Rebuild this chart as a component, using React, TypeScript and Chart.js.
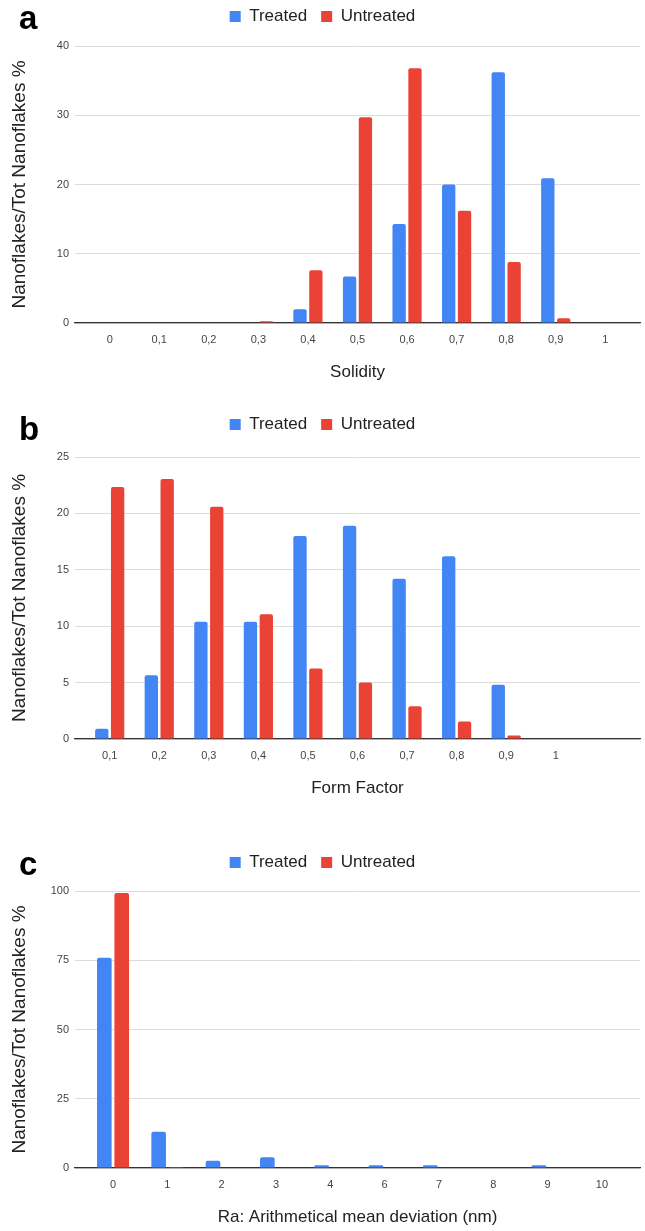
import React, { useEffect, useRef } from "react";
import { Chart, registerables } from "chart.js";

Chart.register(...registerables);

// ---------- Data ----------
const categoriesA = ["0", "0,1", "0,2", "0,3", "0,4", "0,5", "0,6", "0,7", "0,8", "0,9", "1"];
const treatedA = [0, 0, 0, 0, 2.0, 6.7, 14.3, 20.0, 36.2, 20.9, 0];
const untreatedA = [0, 0, 0, 0.25, 7.6, 29.7, 36.8, 16.2, 8.8, 0.7, 0];
const yTicksA = { max: 40, step: 10 };

const categoriesB = ["0,1", "0,2", "0,3", "0,4", "0,5", "0,6", "0,7", "0,8", "0,9", "1", ""];
const treatedB = [0.9, 5.65, 10.4, 10.4, 18.0, 18.9, 14.2, 16.2, 4.8, 0, 0];
const untreatedB = [22.35, 23.05, 20.6, 11.05, 6.25, 5.0, 2.9, 1.55, 0.3, 0, 0];
const yTicksB = { max: 25, step: 5 };

const categoriesC = ["0", "1", "2", "3", "4", "6", "7", "8", "9", "10"];
const treatedC = [75.9, 13.1, 2.6, 3.9, 1.0, 1.0, 1.0, 0, 1.0, 0];
const untreatedC = [99.3, 0.4, 0, 0, 0, 0, 0, 0, 0, 0];
const yTicksC = { max: 100, step: 25 };

const seriesNames = ["Treated", "Untreated"];
const BLUE = "#4285F4";
const RED = "#EA4335";
const FONT = '"Liberation Sans", Arial, sans-serif';

type PanelProps = {
  top: number;
  height: number;
  letter: string;
  letterY: number;
  legendExtra: number;
  categories: string[];
  treated: number[];
  untreated: number[];
  yMax: number;
  yStep: number;
  xTitle: string;
};

function Panel(p: PanelProps) {
  const ref = useRef<HTMLCanvasElement>(null);
  useEffect(() => {
    const canvas = ref.current!;
    const n = p.categories.length;
    const legendSpacer = {
      id: "legendSpacer",
      beforeLayout(chart: any) {
        const lg = chart.legend;
        if (lg && !lg.__patched) {
          const orig = lg.fit;
          lg.fit = function () {
            orig.call(this);
            this.height += p.legendExtra;
          };
          lg.__patched = true;
        }
      },
    };
    const letterPlugin = {
      id: "panelLetter",
      afterDraw(chart: any) {
        const ctx = chart.ctx;
        ctx.save();
        ctx.font = `bold 33px ${FONT}`;
        ctx.fillStyle = "#000";
        ctx.textBaseline = "alphabetic";
        ctx.textAlign = "left";
        ctx.fillText(p.letter, 19, p.letterY);
        ctx.restore();
      },
    };
    const chart = new Chart(canvas, {
      type: "bar",
      data: {
        datasets: [
          {
            label: seriesNames[0],
            data: p.categories.map((_, i) => ({ x: i, y: p.treated[i] })),
            backgroundColor: BLUE,
            borderRadius: { topLeft: 2, topRight: 2 },
            borderSkipped: "start",
          },
          {
            label: seriesNames[1],
            data: p.categories.map((_, i) => ({ x: i, y: p.untreated[i] })),
            backgroundColor: RED,
            borderRadius: { topLeft: 2, topRight: 2 },
            borderSkipped: "start",
          },
        ],
      },
      options: {
        animation: false,
        responsive: false,
        layout: { padding: { left: 5, right: 5, top: 0, bottom: 0 } },
        categoryPercentage: 0.64,
        barPercentage: 0.84,
        plugins: {
          legend: {
            display: true,
            position: "top",
            align: "center",
            labels: {
              boxWidth: 11,
              boxHeight: 11,
              padding: 14,
              color: "#222",
              font: { family: FONT, size: 17 },
            },
          },
          tooltip: { enabled: false },
        },
        scales: {
          x: {
            type: "linear",
            min: -0.7,
            max: n - 1 + 0.7,
            offset: false,
            grid: { display: false, drawTicks: false },
            border: { display: true, color: "#333", width: 1.2 },
            ticks: {
              stepSize: 1,
              maxTicksLimit: 30,
              includeBounds: false,
              autoSkip: false,
              maxRotation: 0,
              padding: 10,
              color: "#444",
              font: { family: FONT, size: 11 },
              callback: (v: any) => {
                const i = Number(v);
                return Number.isInteger(i) ? p.categories[i] ?? "" : "";
              },
            },
            title: {
              display: true,
              text: p.xTitle,
              color: "#222",
              font: { family: FONT, size: 17 },
              padding: { top: 0, bottom: 2 },
            },
            afterFit: (s: any) => {
              s.height = 62;
            },
          },
          y: {
            min: 0,
            max: p.yMax,
            grid: { color: "#dcdcdc", drawTicks: false },
            border: { display: false },
            ticks: {
              stepSize: p.yStep,
              padding: 6,
              color: "#444",
              font: { family: FONT, size: 11 },
            },
            title: {
              display: true,
              text: "Nanoflakes/Tot Nanoflakes %",
              color: "#222",
              font: { family: FONT, size: 19 },
              padding: { top: 3, bottom: 0 },
            },
            afterFit: (s: any) => {
              s.width = 70;
            },
          },
        },
      },
      plugins: [legendSpacer, letterPlugin],
    } as any);
    return () => chart.destroy();
  }, []);
  return (
    <canvas
      ref={ref}
      width={645}
      height={p.height}
      style={{ position: "absolute", left: 0, top: p.top, display: "block" }}
    />
  );
}

export default function App() {
  return (
    <div style={{ position: "absolute", left: 0, top: 0, width: 645, height: 1231, background: "#fff", overflow: "hidden" }}>
      <Panel
        top={-6}
        height={391}
        letter="a"
        letterY={35}
        legendExtra={11}
        categories={categoriesA}
        treated={treatedA}
        untreated={untreatedA}
        yMax={yTicksA.max}
        yStep={yTicksA.step}
        xTitle="Solidity"
      />
      <Panel
        top={402}
        height={399}
        letter="b"
        letterY={38}
        legendExtra={14}
        categories={categoriesB}
        treated={treatedB}
        untreated={untreatedB}
        yMax={yTicksB.max}
        yStep={yTicksB.step}
        xTitle="Form Factor"
      />
      <Panel
        top={840}
        height={390}
        letter="c"
        letterY={35}
        legendExtra={10}
        categories={categoriesC}
        treated={treatedC}
        untreated={untreatedC}
        yMax={yTicksC.max}
        yStep={yTicksC.step}
        xTitle="Ra: Arithmetical mean deviation (nm)"
      />
    </div>
  );
}
